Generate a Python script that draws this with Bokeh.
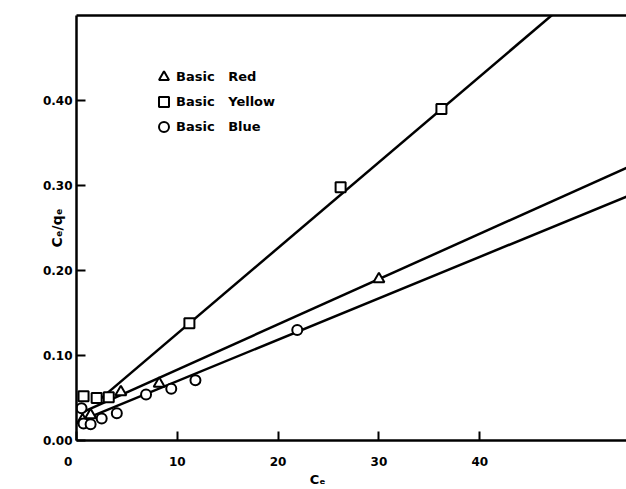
from bokeh.plotting import figure
from bokeh.models import Range1d, LinearAxis, FixedTicker, Legend, LegendItem, NumeralTickFormatter
from bokeh.embed import file_html
from bokeh.resources import INLINE

# ---- data ----
yellow_ce = [0.7, 2.0, 3.2, 11.2, 26.2, 36.2]
yellow_q = [0.052, 0.050, 0.051, 0.138, 0.298, 0.390]
red_ce = [0.6, 1.4, 4.4, 8.2, 30.0]
red_q = [0.024, 0.030, 0.057, 0.067, 0.190]
blue_ce = [0.5, 0.7, 1.4, 2.5, 4.0, 6.9, 9.4, 11.8, 21.9]
blue_q = [0.038, 0.020, 0.019, 0.026, 0.032, 0.054, 0.061, 0.071, 0.130]

# linear fits: (slope, intercept, first Ce, last Ce)
yellow_fit = (0.01008, 0.0250, 2.0, 55.0)
red_fit = (0.00533, 0.0300, 0.9, 55.0)
blue_fit = (0.00487, 0.0212, 0.4, 55.0)

x_ticks = [0, 10, 20, 30, 40]
y_ticks = [0.0, 0.1, 0.2, 0.3, 0.4]

FONT = "DejaVu Sans"
NB = "\u00a0"

p = figure(width=626, height=489, x_range=Range1d(0, 54.56), y_range=Range1d(0, 0.5),
           output_backend="svg", toolbar_location=None,
           min_border_left=76, min_border_right=0, min_border_top=15, min_border_bottom=47)
p.grid.visible = False
p.outline_line_color = None

for ax in (p.xaxis[0], p.yaxis[0]):
    ax.axis_line_width = 2.5
    ax.major_tick_line_width = 2
    ax.major_tick_in = 9
    ax.major_tick_out = 0
    ax.minor_tick_in = 0
    ax.minor_tick_out = 0
    ax.major_label_text_font = FONT
    ax.major_label_text_font_style = "bold"
    ax.major_label_text_font_size = "12px"
    ax.major_label_text_color = "black"
    ax.axis_label_text_font = FONT
    ax.axis_label_text_font_style = "bold"
    ax.axis_label_text_color = "black"

p.xaxis.ticker = FixedTicker(ticks=x_ticks)
p.xaxis.major_label_standoff = 14
p.xaxis.major_label_overrides = {0: "0" + NB * 4}
p.xaxis.axis_label = "C\u2091" + NB * 15
p.xaxis.axis_label_standoff = 0
p.xaxis.axis_label_text_font_size = "13px"

p.yaxis.ticker = FixedTicker(ticks=y_ticks)
p.yaxis.formatter = NumeralTickFormatter(format="0.00")
p.yaxis.major_label_standoff = 4
p.yaxis.axis_label = "C\u2091/q\u2091"
p.yaxis.axis_label_standoff = -25
p.yaxis.axis_label_text_font_size = "14px"

top = LinearAxis(ticker=FixedTicker(ticks=[]), axis_line_width=2.5,
                 major_tick_in=0, major_tick_out=0, minor_tick_in=0, minor_tick_out=0,
                 major_label_text_font_size="0px")
p.add_layout(top, "above")

def fit_line(fit):
    s, b, x0, x1 = fit
    return [x0, x1], [b + s * x0, b + s * x1]

for fit in (yellow_fit, red_fit, blue_fit):
    xs, ys = fit_line(fit)
    p.line(xs, ys, line_color="black", line_width=2.5)

ry = p.scatter(yellow_ce, yellow_q, marker="square", size=10, fill_color="white",
               line_color="black", line_width=2)
rr = p.scatter(red_ce, red_q, marker="triangle", size=11, fill_color="white",
               line_color="black", line_width=2)
rb = p.scatter(blue_ce, blue_q, marker="circle", size=10, fill_color="white",
               line_color="black", line_width=2)

legend = Legend(items=[LegendItem(label="Basic" + NB * 3 + "Red", renderers=[rr]),
                       LegendItem(label="Basic" + NB * 3 + "Yellow", renderers=[ry]),
                       LegendItem(label="Basic" + NB * 3 + "Blue", renderers=[rb])],
                location=(75, 301), margin=0, padding=0, spacing=0,
                glyph_width=25, glyph_height=25, label_height=25, label_standoff=-7,
                label_text_font=FONT, label_text_font_style="bold",
                label_text_font_size="13px", label_text_color="black",
                background_fill_alpha=0, border_line_color=None)
p.add_layout(legend, "center")

open("out.html", "w").write(file_html(p, INLINE))
